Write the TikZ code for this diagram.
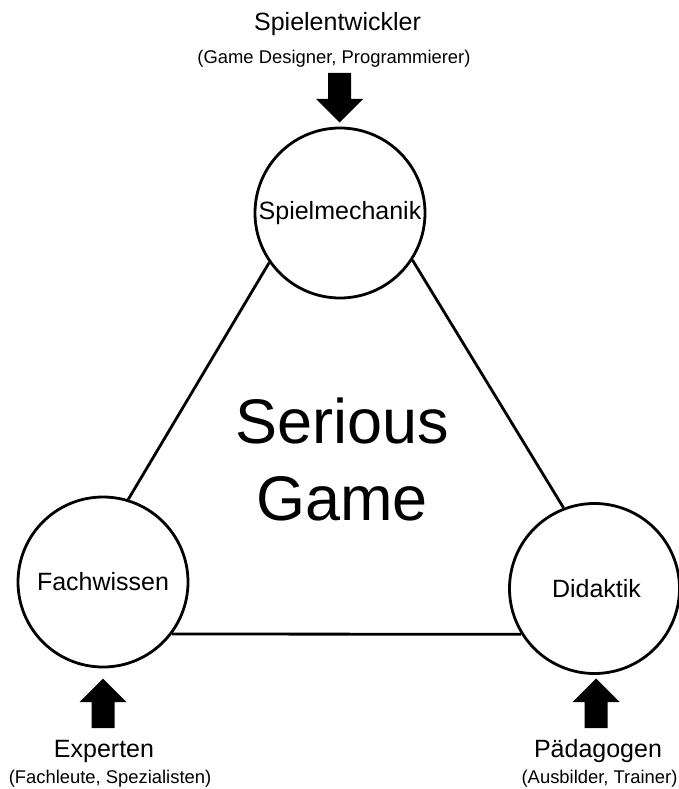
\documentclass[tikz,border=0pt]{standalone}
\usepackage{fontspec}
\setmainfont{Liberation Sans}
\begin{document}
\begin{tikzpicture}[x=1pt,y=-1pt,
  role/.style={circle,draw=black,line width=2.8pt,minimum size=170pt,inner sep=0pt,font=\fontsize{25}{28}\selectfont},
  edge/.style={draw=black,line width=2.8pt},
  who/.style={anchor=base,inner sep=0pt,font=\fontsize{25}{28}\selectfont},
  whodetail/.style={anchor=base,inner sep=0pt,font=\fontsize{18.4}{22}\selectfont},
  big/.style={anchor=base,inner sep=0pt,font=\fontsize{63}{70}\selectfont},
  blockarrow/.pic={\fill[black] (-11.5,0) -- (-11.5,-26) -- (-23.5,-26) -- (0,-49.5) -- (23.5,-26) -- (11.5,-26) -- (11.5,0) -- cycle;}
]
\useasboundingbox (0,0) rectangle (678,789);

% circles
\node[role] (mech) at (340,213) {Spielmechanik};
\node[role] (fach) at (103,582) {Fachwissen};
\node[role] (dida) at (594.5,588.5) {\hspace*{4pt}Didaktik};

% triangle
\draw[edge] (mech.215.5) -- (fach.73.4);
\draw[edge] (mech.327) -- (dida.111.7);
\draw[edge] (fach.323) -- (dida.212.4);

% centre text
\node[big] (serious) at (342,443) {Serious};
\node[big] (game) at (342,520) {Game};

% top
\node[who] (dev) at (337.5,31) {Spielentwickler};
\node[whodetail] (devd) at (334,64) {(Game Designer, Programmierer)};
\pic[rotate=180] at (339.5,73) {blockarrow};

% bottom left
\pic at (103,728) {blockarrow};
\node[who] (exp) at (104,757) {Experten};
\node[whodetail] (expd) at (110,783) {(Fachleute, Spezialisten)};

% bottom right
\pic at (596,728) {blockarrow};
\node[who] (paed) at (598,757) {Pädagogen};
\node[whodetail] (paedd) at (599.5,783) {(Ausbilder, Trainer)};
\end{tikzpicture}
\end{document}
